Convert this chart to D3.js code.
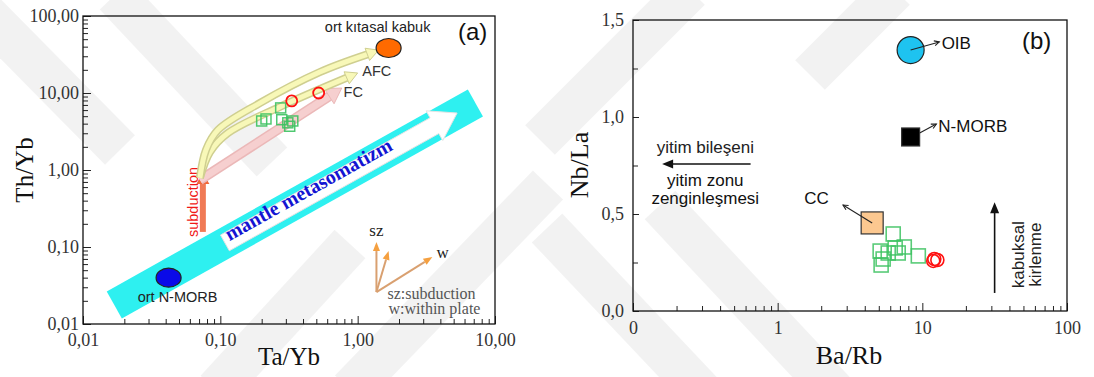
<!DOCTYPE html>
<html lang="en">
<head>
<meta charset="UTF-8">
<title>Th/Yb - Ta/Yb ve Nb/La - Ba/Rb</title>
<script src="https://d3js.org/d3.v7.min.js"></script>
<style>
  body { margin: 0; background: #fff; }
  svg text { font-family: "Liberation Sans", Arial, sans-serif; }
  svg .serif { font-family: "Liberation Serif", "Times New Roman", serif; }
</style>
</head>
<body>
<div id="chart"></div>
<script>
// ---------- panel (a): Th/Yb vs Ta/Yb ----------
const sampleTaYb = [0.20, 0.215, 0.275, 0.28, 0.31, 0.337, 0.32];
const sampleThYb = [4.33, 4.6, 6.4, 4.5, 4.1, 4.33, 3.7];
const redTaYb = [0.331, 0.52];
const redThYb = [7.9, 10.0];
const refANames = ["ort N-MORB", "ort kıtasal kabuk"];
const refATaYb = [0.042, 1.68];
const refAThYb = [0.040, 38.4];
const ticksAx = [0.01, 0.1, 1, 10];
const labelsAx = ["0,01", "0,10", "1,00", "10,00"];
const ticksAy = [0.01, 0.1, 1, 10, 100];
const labelsAy = ["0,01", "0,10", "1,00", "10,00", "100,00"];

// ---------- panel (b): Nb/La vs Ba/Rb ----------
const sampleBaRb = [6.29, 5.11, 6.49, 7.5, 9.38, 5.36, 5.19, 5.81, 6.81];
const sampleNbLa = [0.397, 0.309, 0.325, 0.330, 0.284, 0.268, 0.237, 0.299, 0.299];
const redBaRb = [12.1, 12.7, 11.9];
const redNbLa = [0.268, 0.263, 0.258];
const refBNames = ["OIB", "N-MORB", "CC"];
const refBBaRb = [8.3, 8.3, 4.5];
const refBNbLa = [1.345, 0.897, 0.454];
const ticksBx = [0.1, 1, 10, 100];
const labelsBx = ["0", "1", "10", "100"];
const ticksBy = [0, 0.5, 1.0, 1.5];
const labelsBy = ["0,0", "0,5", "1,0", "1,5"];

const W = 1094, H = 377;
const svg = d3.select("#chart").append("svg").attr("width", W).attr("height", H);

// faint diagonal watermark in the background of the page
const wmBands = [
  [[115, -5], [272, 162]], [[-20, 8], [120, 150]], [[216, 390], [350, 244]], [[350, 390], [548, 185]],
  [[540, 140], [690, -10]], [[547, 228], [702, 392]], [[660, 205], [835, 392]], [[810, 75], [895, -10]]
];
wmBands.forEach(b => svg.append("line").attr("x1", b[0][0]).attr("y1", b[0][1]).attr("x2", b[1][0]).attr("y2", b[1][1])
  .attr("stroke", "#000").attr("stroke-opacity", 0.05).attr("stroke-width", 42));

const xA = d3.scaleLog().domain([0.01, 10]).range([83, 495]);
const yA = d3.scaleLog().domain([0.01, 100]).range([324, 16]);
const xB = d3.scaleLog().domain([0.1, 100]).range([633, 1067]);
const yB = d3.scaleLinear().domain([0, 1.5]).range([311, 20]);

function logMinor(lo, hi) {
  const out = [];
  for (let d = lo; d < hi * 0.999; d *= 10)
    for (let k = 1; k <= 9; k++) out.push(+(k * d).toPrecision(3));
  out.push(hi);
  return out;
}
const isDecade = v => Math.abs(Math.log10(v) - Math.round(Math.log10(v))) < 1e-6;

function arrowHead(x1, y1, x2, y2, len, wid) {
  const a = Math.atan2(y2 - y1, x2 - x1), c = Math.cos(a), s = Math.sin(a);
  const bx = x2 - c * len, by = y2 - s * len;
  return [[x2, y2], [bx - s * wid / 2, by + c * wid / 2], [bx + s * wid / 2, by - c * wid / 2]];
}

// ===== axes helper =====
function axes(g, x, y, xt, xl, yt, yl, xAll, yAll, xPad, yPad, majorY) {
  const r = x.range(), t = y.range();
  const ax = d3.axisBottom(x).tickValues(xAll).tickSize(-5).tickPadding(xPad)
    .tickFormat(v => { const i = xt.findIndex(d => Math.abs(d - v) < 1e-9); return i >= 0 ? xl[i] : ""; });
  const gx = g.append("g").attr("transform", `translate(0,${t[0]})`).call(ax);
  const ay = d3.axisLeft(y).tickValues(yAll).tickSize(-5).tickPadding(yPad)
    .tickFormat(v => { const i = yt.findIndex(d => Math.abs(d - v) < 1e-9); return i >= 0 ? yl[i] : ""; });
  const gy = g.append("g").attr("transform", `translate(${r[0]},0)`).call(ay);
  [gx, gy].forEach(a => {
    a.select(".domain").remove();
    a.selectAll("text").attr("class", "serif").attr("font-size", 18).attr("fill", "#333");
    a.selectAll("line").attr("stroke", "#222");
  });
  gx.selectAll(".tick").filter(v => xt.some(d => Math.abs(d - v) < 1e-9)).select("line").attr("y2", -8);
  gy.selectAll(".tick").filter(v => majorY(v)).select("line").attr("x2", 8);
  g.append("rect").attr("x", r[0]).attr("y", t[1]).attr("width", r[1] - r[0]).attr("height", t[0] - t[1])
    .attr("fill", "none").attr("stroke", "#111").attr("stroke-width", 1.3);
}

// ================= PANEL A =================
const gA = svg.append("g");
axes(gA, xA, yA, ticksAx, labelsAx, ticksAy, labelsAy, logMinor(0.01, 10), logMinor(0.01, 100), 9, 4, isDecade);

gA.append("text").attr("class", "serif").attr("font-size", 25).attr("text-anchor", "middle")
  .attr("x", 289).attr("y", 365).attr("fill", "#111").text("Ta/Yb");
gA.append("text").attr("class", "serif").attr("font-size", 25).attr("text-anchor", "middle")
  .attr("transform", "translate(33,170) rotate(-90)").attr("fill", "#111").text("Th/Yb");
gA.append("text").attr("font-size", 24).attr("x", 458).attr("y", 40).attr("fill", "#111").text("(a)");

// mantle metasomatism band (data coordinates of its centre line)
const bandFrom = [0.0169, 0.0177], bandTo = [7.2, 7.4], bandWidth = 31;
{
  const p0 = [xA(bandFrom[0]), yA(bandFrom[1])], p1 = [xA(bandTo[0]), yA(bandTo[1])];
  const a = Math.atan2(p1[1] - p0[1], p1[0] - p0[0]);
  const nx = -Math.sin(a) * bandWidth / 2, ny = Math.cos(a) * bandWidth / 2;
  gA.append("polygon").attr("fill", "#2ef0f0")
    .attr("points", [[p0[0] + nx, p0[1] + ny], [p1[0] + nx, p1[1] + ny], [p1[0] - nx, p1[1] - ny], [p0[0] - nx, p0[1] - ny]].join(" "));
}
// white arrow inside the band
const wArrFrom = [0.108, 0.113], wArrTo = [5.3, 5.5];
{
  const s = [xA(wArrFrom[0]), yA(wArrFrom[1])], e = [xA(wArrTo[0]), yA(wArrTo[1])];
  const a = Math.atan2(e[1] - s[1], e[0] - s[0]), c = Math.cos(a), sn = Math.sin(a);
  const hl = 26, sw = 9, hw = 17;
  const b = [e[0] - c * hl, e[1] - sn * hl];
  const pts = [
    [s[0] - sn * sw, s[1] + c * sw], [b[0] - sn * sw, b[1] + c * sw], [b[0] - sn * hw, b[1] + c * hw],
    e, [b[0] + sn * hw, b[1] - c * hw], [b[0] + sn * sw, b[1] - c * sw], [s[0] + sn * sw, s[1] - c * sw]];
  gA.append("polygon").attr("points", pts.join(" ")).attr("fill", "#fff").attr("stroke", "#e4e4e4");
  const tc = [xA(0.44), yA(0.55)];
  gA.append("text").attr("class", "serif").attr("font-weight", "bold").attr("font-size", 20)
    .attr("fill", "#1414d2").attr("text-anchor", "middle").attr("dy", "0.3em")
    .attr("transform", `translate(${tc[0]},${tc[1]}) rotate(${a * 180 / Math.PI})`)
    .text("mantle metasomatizm");
}

// subduction arrow
const subFrom = [0.0746, 0.157], subTo = [0.0746, 0.94];
{
  const s = [xA(subFrom[0]), yA(subFrom[1])], e = [xA(subTo[0]), yA(subTo[1])];
  gA.append("line").attr("x1", s[0]).attr("y1", s[1]).attr("x2", e[0]).attr("y2", e[1] + 10)
    .attr("stroke", "#f07a55").attr("stroke-width", 6);
  gA.append("polygon").attr("points", arrowHead(s[0], s[1], e[0], e[1], 12, 13).join(" ")).attr("fill", "#f0683a");
  gA.append("text").attr("font-size", 14.5).attr("fill", "#f01818").attr("text-anchor", "middle")
    .attr("transform", `translate(${s[0] - 5},${(s[1] + e[1]) / 2}) rotate(-90)`).text("subduction");
}

// curved AFC arrows and straight FC arrow (data coordinates)
const curveUpper = [[0.071, 0.79], [0.0786, 1.82], [0.096, 3.3], [0.194, 7.4], [0.53, 18.7], [1.42, 36]];
const curveLower = [[0.071, 0.79], [0.084, 1.71], [0.113, 3.0], [0.271, 6.6], [1.0, 18.2]];
const fcLine = [[0.071, 0.74], [0.766, 11.6]];
function tubeArrow(pts, outer, inner, w, hl, hw) {
  const px = pts.map(d => [xA(d[0]), yA(d[1])]);
  const n = px.length, tip = px[n - 1], prev = px[n - 2];
  const a = Math.atan2(tip[1] - prev[1], tip[0] - prev[0]);
  const base = [tip[0] - Math.cos(a) * hl, tip[1] - Math.sin(a) * hl];
  const body = px.slice(0, n - 1).concat([base]);
  const line = d3.line().curve(d3.curveCatmullRom.alpha(0.5));
  gA.append("path").attr("d", line(body)).attr("fill", "none").attr("stroke", outer).attr("stroke-width", w + 2);
  gA.append("path").attr("d", line(body)).attr("fill", "none").attr("stroke", inner).attr("stroke-width", w - 1);
  gA.append("polygon").attr("points", arrowHead(base[0] - Math.cos(a), base[1] - Math.sin(a), tip[0], tip[1], hl, hw).join(" "))
    .attr("fill", inner).attr("stroke", outer).attr("stroke-width", 1);
}
tubeArrow(fcLine, "#ebb8b8", "#f6cfcf", 8, 15, 18);
tubeArrow(curveLower, "#cfcf90", "#f8f8b8", 6, 12, 13);
tubeArrow(curveUpper, "#cfcf90", "#f8f8b8", 6, 12, 13);

gA.append("text").attr("font-size", 14.5).attr("fill", "#333").attr("x", xA(1.08)).attr("y", yA(16.5)).text("AFC");
gA.append("text").attr("font-size", 14.5).attr("fill", "#333").attr("x", xA(0.79)).attr("y", yA(9.0)).text("FC");

// reference compositions
const refAFill = ["#0a0ae8", "#ff6a00"];
refANames.forEach((name, i) => {
  const cx = xA(refATaYb[i]), cy = yA(refAThYb[i]);
  gA.append("ellipse").attr("cx", cx).attr("cy", cy).attr("rx", 12.5).attr("ry", 9.5)
    .attr("fill", refAFill[i]).attr("stroke", "#222").attr("stroke-width", 1.2);
  gA.append("text").attr("font-size", 14.5).attr("fill", "#222").attr("text-anchor", "middle")
    .attr("x", i === 0 ? cx + 9 : cx - 11).attr("y", i === 0 ? cy + 24 : cy - 16).text(name);
});

// samples
gA.selectAll("rect.sq").data(sampleTaYb).join("rect").attr("class", "sq")
  .attr("x", (d, i) => xA(d) - 5).attr("y", (d, i) => yA(sampleThYb[i]) - 5)
  .attr("width", 10).attr("height", 10).attr("fill", "none")
  .attr("stroke", "#3cc260").attr("stroke-width", 1.5).attr("opacity", 0.9);
gA.selectAll("circle.rc").data(redTaYb).join("circle").attr("class", "rc")
  .attr("cx", d => xA(d)).attr("cy", (d, i) => yA(redThYb[i])).attr("r", 5.5)
  .attr("fill", "none").attr("stroke", "#ff1010").attr("stroke-width", 1.8);

// sz / w vector legend
const vecOrigin = [1.37, 0.026];
const vecTips = [[1.37, 0.116], [1.68, 0.089], [3.5, 0.074]];
{
  const o = [xA(vecOrigin[0]), yA(vecOrigin[1])];
  vecTips.forEach(t => {
    const e = [xA(t[0]), yA(t[1])];
    const h = arrowHead(o[0], o[1], e[0], e[1], 9, 7);
    const b = [(h[1][0] + h[2][0]) / 2, (h[1][1] + h[2][1]) / 2];
    gA.append("line").attr("x1", o[0]).attr("y1", o[1]).attr("x2", b[0]).attr("y2", b[1])
      .attr("stroke", "#d9a070").attr("stroke-width", 2);
    gA.append("polygon").attr("points", h.join(" ")).attr("fill", "#f5a040");
  });
  gA.append("text").attr("class", "serif").attr("font-size", 17).attr("fill", "#222").attr("text-anchor", "middle")
    .attr("x", xA(1.37)).attr("y", yA(0.14)).text("sz");
  gA.append("text").attr("class", "serif").attr("font-size", 17).attr("fill", "#222")
    .attr("x", xA(3.75)).attr("y", yA(0.073)).text("w");
  gA.append("text").attr("class", "serif").attr("font-size", 16).attr("fill", "#555")
    .attr("x", o[0] + 11).attr("y", o[1] + 7).text("sz:subduction");
  gA.append("text").attr("class", "serif").attr("font-size", 16).attr("fill", "#555")
    .attr("x", o[0] + 12).attr("y", o[1] + 22).text("w:within plate");
}

// ================= PANEL B =================
const gB = svg.append("g");
axes(gB, xB, yB, ticksBx, labelsBx, ticksBy, labelsBy, logMinor(0.1, 100), d3.range(0, 1.51, 0.25), 10, 9,
  v => ticksBy.some(d => Math.abs(d - v) < 1e-9));
gB.selectAll("g .tick line").filter(function () { return +d3.select(this).attr("x2") === 8; }).attr("x2", 6);

gB.append("text").attr("class", "serif").attr("font-size", 26).attr("text-anchor", "middle")
  .attr("x", 849).attr("y", 364).attr("fill", "#111").text("Ba/Rb");
gB.append("text").attr("class", "serif").attr("font-size", 26).attr("text-anchor", "middle")
  .attr("transform", "translate(588,165) rotate(-90)").attr("fill", "#111").text("Nb/La");
gB.append("text").attr("font-size", 24).attr("x", 1022).attr("y", 49).attr("fill", "#111").text("(b)");

// yitim annotation
const yitimArrow = [[0.65, 0.758], [0.159, 0.758]];
{
  const s = [xB(yitimArrow[0][0]), yB(yitimArrow[0][1])], e = [xB(yitimArrow[1][0]), yB(yitimArrow[1][1])];
  gB.append("line").attr("x1", s[0]).attr("y1", s[1]).attr("x2", e[0] + 8).attr("y2", e[1])
    .attr("stroke", "#111").attr("stroke-width", 1.6);
  gB.append("polygon").attr("points", arrowHead(s[0], s[1], e[0], e[1], 11, 9).join(" ")).attr("fill", "#111");
  const cx = xB(0.316);
  gB.append("text").attr("font-size", 17).attr("fill", "#222").attr("text-anchor", "middle").attr("x", cx).attr("y", yB(0.814)).text("yitim bileşeni");
  gB.append("text").attr("font-size", 17).attr("fill", "#111").attr("text-anchor", "middle").attr("x", cx).attr("y", yB(0.646)).text("yitim zonu");
  gB.append("text").attr("font-size", 17).attr("fill", "#111").attr("text-anchor", "middle").attr("x", cx).attr("y", yB(0.554)).text("zenginleşmesi");
}
// kabuksal kirlenme annotation
const kabukArrow = [[31.6, 0.093], [31.6, 0.56]];
{
  const s = [xB(kabukArrow[0][0]), yB(kabukArrow[0][1])], e = [xB(kabukArrow[1][0]), yB(kabukArrow[1][1])];
  gB.append("line").attr("x1", s[0]).attr("y1", s[1]).attr("x2", e[0]).attr("y2", e[1] + 8)
    .attr("stroke", "#111").attr("stroke-width", 1.6);
  gB.append("polygon").attr("points", arrowHead(s[0], s[1], e[0], e[1], 11, 9).join(" ")).attr("fill", "#111");
  gB.append("text").attr("font-size", 17).attr("fill", "#222").attr("text-anchor", "middle")
    .attr("transform", `translate(${s[0] + 29},${(s[1] + e[1]) / 2 + 7}) rotate(-90)`).text("kabuksal");
  gB.append("text").attr("font-size", 17).attr("fill", "#222").attr("text-anchor", "middle")
    .attr("transform", `translate(${s[0] + 46},${(s[1] + e[1]) / 2 + 7}) rotate(-90)`).text("kirlenme");
}

// samples (b)
gB.selectAll("rect.sq").data(sampleBaRb).join("rect").attr("class", "sq")
  .attr("x", d => xB(d) - 7).attr("y", (d, i) => yB(sampleNbLa[i]) - 7)
  .attr("width", 14).attr("height", 14).attr("fill", "none")
  .attr("stroke", "#3cc260").attr("stroke-width", 1.6).attr("opacity", 0.85);
gB.selectAll("circle.rc").data(redBaRb).join("circle").attr("class", "rc")
  .attr("cx", d => xB(d)).attr("cy", (d, i) => yB(redNbLa[i])).attr("r", 6.5)
  .attr("fill", "none").attr("stroke", "#ff1010").attr("stroke-width", 1.6);

// reference compositions (b) with leader lines
const refBLeaderEnd = [[13.1, 1.387], [12.5, 0.964], [2.83, 0.546]];
const refBLabelAt = [[13.6, 1.352], [12.9, 0.923], [2.26, 0.552]];
refBNames.forEach((name, i) => {
  const cx = xB(refBBaRb[i]), cy = yB(refBNbLa[i]);
  const le = [xB(refBLeaderEnd[i][0]), yB(refBLeaderEnd[i][1])];
  const ls = i === 1 ? [cx + 9, cy - 4] : [cx, cy];
  if (i === 0) {
    gB.append("circle").attr("cx", cx).attr("cy", cy).attr("r", 13.5)
      .attr("fill", "#1ec3f0").attr("stroke", "#222").attr("stroke-width", 1.2);
  } else {
    const s = i === 1 ? 18 : 22;
    gB.append("rect").attr("x", cx - s / 2).attr("y", cy - s / 2).attr("width", s).attr("height", s)
      .attr("fill", i === 1 ? "#000" : "#fcc890").attr("stroke", "#333").attr("stroke-width", 1.2);
  }
  gB.append("line").attr("x1", ls[0]).attr("y1", ls[1]).attr("x2", le[0]).attr("y2", le[1])
    .attr("stroke", "#222").attr("stroke-width", 1.1);
  const h = arrowHead(ls[0], ls[1], le[0], le[1], 5, 5);
  gB.append("polyline").attr("points", [h[1], h[0], h[2]].join(" ")).attr("fill", "none")
    .attr("stroke", "#222").attr("stroke-width", 1.1);
  gB.append("text").attr("font-size", 17).attr("fill", "#111")
    .attr("text-anchor", i === 2 ? "end" : "start")
    .attr("x", xB(refBLabelAt[i][0])).attr("y", yB(refBLabelAt[i][1])).text(name);
});
</script>
</body>
</html>
